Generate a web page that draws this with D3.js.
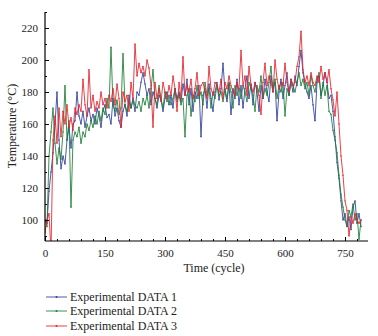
<!DOCTYPE html>
<html><head><meta charset="utf-8">
<script src="https://cdn.jsdelivr.net/npm/d3@7"></script>
<style>body{margin:0;background:#fff}svg{display:block}</style>
</head><body>
<svg id="c" width="378" height="336"></svg>
<script>
const cycles = [0,5,10,15,20,25,30,35,40,45,50,55,60,65,70,75,80,85,90,95,100,105,110,115,120,125,130,135,140,145,150,155,160,165,170,175,180,185,190,195,200,205,210,215,220,225,230,235,240,245,250,255,260,265,270,275,280,285,290,295,300,305,310,315,320,325,330,335,340,345,350,355,360,365,370,375,380,385,390,395,400,405,410,415,420,425,430,435,440,445,450,455,460,465,470,475,480,485,490,495,500,505,510,515,520,525,530,535,540,545,550,555,560,565,570,575,580,585,590,595,600,605,610,615,620,625,630,635,640,645,650,655,660,665,670,675,680,685,690,695,700,705,710,715,720,725,730,735,740,745,750,755,760,765,770,775,780,785,790];
const data1 = [100,98,118,130,142,160,180,150,132,140,135,150,158,145,160,162,180,165,160,168,158,165,170,162,166,160,170,165,158,168,172,164,166,160,176,165,170,162,158,168,172,165,178,170,175,168,180,178,186,192,185,178,182,172,180,176,170,178,175,168,176,180,172,178,170,182,176,180,174,185,178,188,172,182,168,180,176,184,152,178,182,170,185,176,168,180,186,175,182,198,180,174,185,166,182,176,188,172,184,170,182,190,176,185,172,186,180,168,184,176,188,180,174,190,182,186,162,180,188,176,184,192,178,186,180,190,184,196,206,192,185,180,176,184,172,162,186,190,178,184,192,186,176,178,168,152,136,126,112,100,104,96,102,94,108,112,98,104,96];
const data2 = [100,96,140,155,170,148,135,145,138,155,184,150,162,108,150,155,152,158,148,155,152,160,156,162,158,165,160,168,162,170,166,176,170,208,172,168,175,166,170,204,172,168,174,170,176,172,170,174,168,176,172,178,170,182,194,176,172,184,176,170,180,174,178,172,176,182,174,178,172,176,152,178,182,165,178,174,184,176,180,172,186,178,182,170,180,176,184,178,180,174,182,176,186,180,170,184,178,182,176,184,180,174,186,182,178,168,184,180,190,176,182,178,186,196,180,188,176,184,180,186,165,182,178,188,184,180,186,192,184,188,182,186,178,190,184,180,188,192,176,186,178,184,168,166,156,150,142,128,116,108,100,96,106,102,110,100,104,88,100];
const data3 = [92,100,104,80,150,165,148,170,152,168,160,172,158,164,156,170,166,172,168,188,172,165,194,170,178,168,174,170,180,172,176,170,178,174,182,172,185,176,158,180,174,178,168,186,176,210,190,198,192,196,190,200,195,184,158,186,176,182,174,186,180,176,184,178,190,182,168,186,176,202,178,184,180,188,176,182,192,178,184,186,180,176,196,182,178,186,184,180,188,176,186,182,190,184,180,178,186,182,206,184,190,178,196,184,180,186,182,178,166,186,198,184,190,186,180,200,188,182,186,184,198,186,180,188,184,186,196,202,218,194,186,190,184,192,186,184,190,186,196,188,192,186,194,182,175,165,180,160,140,128,112,106,90,102,98,104,100,98,100];
const seriesNames = ["Experimental DATA 1","Experimental DATA 2","Experimental DATA 3"];
const colors = ["#2e3d9c","#1b7d34","#e8202a"];
const xTicks = [0,150,300,450,600,750];
const yTicks = [100,120,140,160,180,200,220];

const svg = d3.select("#c");
const font = "'Liberation Serif', 'DejaVu Serif', serif";
const x = d3.scaleLinear().domain([0,807.5]).range([45,368]);
const y = d3.scaleLinear().domain([86.9,230]).range([241,12]);

svg.append("defs").append("clipPath").attr("id","clip")
  .append("rect").attr("x",45).attr("y",12).attr("width",323).attr("height",229);

const all = [data1,data2,data3];
const g = svg.append("g").attr("clip-path","url(#clip)");
all.forEach((vals,si)=>{
  const pts = cycles.map((c,i)=>[c,vals[i]]);
  g.append("path").datum(pts)
    .attr("fill","none").attr("stroke",colors[si]).attr("stroke-width",1)
    .attr("stroke-opacity",0.85)
    .attr("d",d3.line().x(d=>x(d[0])).y(d=>y(d[1])));
  g.selectAll(null).data(pts).enter().append("circle")
    .attr("cx",d=>x(d[0])).attr("cy",d=>y(d[1])).attr("r",0.7)
    .attr("fill",colors[si]);
});

// axes
const xAxis = d3.axisBottom(x).tickValues(xTicks).tickSize(-4).tickPadding(8).tickFormat(d3.format("d"));
const xMinor = d3.axisBottom(x).tickValues(d3.range(0,808,30).filter(v=>v%150!==0)).tickSize(-2).tickFormat("");
const yAxis = d3.axisLeft(y).tickValues(yTicks).tickSize(-4).tickPadding(7).tickFormat(d3.format("d"));
const yMinor = d3.axisLeft(y).tickValues(d3.range(90,231,10).filter(v=>v%20!==0)).tickSize(-2).tickFormat("");

function styleAxis(sel){
  sel.select(".domain").attr("stroke","#000").attr("stroke-width",1.2);
  sel.selectAll(".tick line").attr("stroke","#000");
  sel.selectAll("text").attr("font-family",font).attr("font-size",11).attr("fill","#222");
}
svg.append("g").attr("transform","translate(0,241)").call(xMinor).call(styleAxis).select(".domain").remove();
svg.append("g").attr("transform","translate(45,0)").call(yMinor).call(styleAxis).select(".domain").remove();
svg.append("g").attr("transform","translate(0,241)").call(xAxis).call(g=>g.select(".domain").attr("d","M45,0H368")).call(styleAxis);
svg.append("g").attr("transform","translate(45,0)").call(yAxis).call(g=>g.select(".domain").attr("d","M0,241V12")).call(styleAxis);

svg.append("text").attr("x",214).attr("y",272).attr("text-anchor","middle")
  .attr("font-family",font).attr("font-size",12).attr("fill","#222").text("Time (cycle)");
svg.append("text").attr("transform","translate(16,126) rotate(-90)").attr("text-anchor","middle")
  .attr("font-family",font).attr("font-size",12).attr("fill","#222").text("Temperature (°C)");

// legend
const legY = [297,311,326];
seriesNames.forEach((n,i)=>{
  svg.append("line").attr("x1",46).attr("x2",67).attr("y1",legY[i]).attr("y2",legY[i])
    .attr("stroke",colors[i]).attr("stroke-width",1).attr("stroke-opacity",0.85);
  svg.append("circle").attr("cx",56.5).attr("cy",legY[i]).attr("r",1).attr("fill",colors[i]);
  svg.append("text").attr("x",70).attr("y",legY[i]+4).attr("font-family",font).attr("font-size",12)
    .attr("fill","#222").text(n);
});
</script>
</body></html>
